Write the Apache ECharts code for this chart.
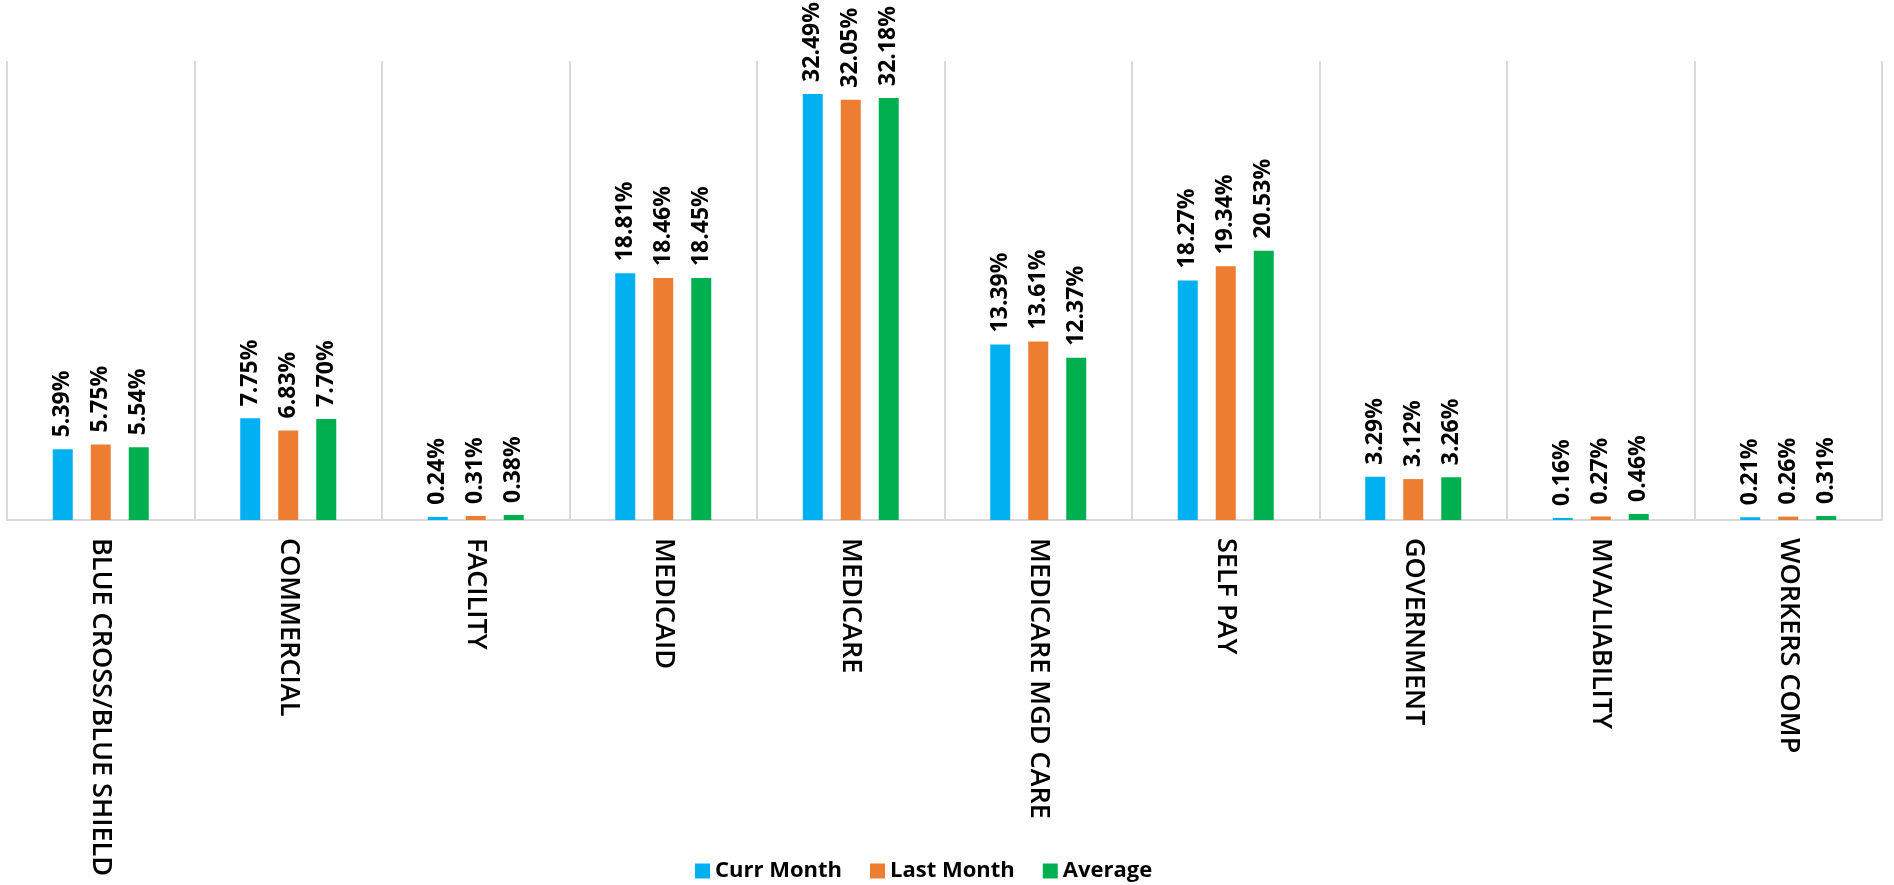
<!DOCTYPE html>
<html>
<head>
<meta charset="utf-8">
<script src="https://cdn.jsdelivr.net/npm/echarts@6/dist/echarts.min.js"></script>
<style>
html,body{margin:0;padding:0;background:#fff;}
#chart{width:1894px;height:885px;}
</style>
</head>
<body>
<div id="chart"></div>
<script>
const categories = ['BLUE CROSS/BLUE SHIELD','COMMERCIAL','FACILITY','MEDICAID','MEDICARE','MEDICARE MGD CARE','SELF PAY','GOVERNMENT','MVA/LIABILITY','WORKERS COMP'];
const currMonth = [5.39, 7.75, 0.24, 18.81, 32.49, 13.39, 18.27, 3.29, 0.16, 0.21];
const lastMonth = [5.75, 6.83, 0.31, 18.46, 32.05, 13.61, 19.34, 3.12, 0.27, 0.26];
const average   = [5.54, 7.70, 0.38, 18.45, 32.18, 12.37, 20.53, 3.26, 0.46, 0.31];
const seriesNames = ['Curr Month','Last Month','Average'];
const colors = ['#00B0F0','#ED7D31','#00B050'];

const chart = echarts.init(document.getElementById('chart'));
const labelCfg = {
  show: true,
  position: 'top',
  rotate: 90,
  align: 'left',
  verticalAlign: 'middle',
  distance: 12,
  color: '#000',
  fontFamily: 'Open Sans',
  fontWeight: 'bold',
  fontSize: 23,
  formatter: p => p.value.toFixed(2) + '%'
};
function mk(name, data, color) {
  return {
    name, type: 'bar', data,
    barWidth: 20, barGap: '90%',
    itemStyle: { color },
    label: labelCfg
  };
}
chart.setOption({
  animation: false,
  color: colors,
  grid: { left: 7, right: 12, top: 61, bottom: 365, containLabel: false },
  legend: {
    left: 690, top: 855,
    itemWidth: 15, itemHeight: 15, itemGap: 28,
    icon: 'rect',
    textStyle: { fontFamily: 'Open Sans', fontWeight: 'bold', fontSize: 22, color: '#000' },
    data: seriesNames
  },
  xAxis: {
    type: 'category',
    data: categories,
    axisLine: { show: true, lineStyle: { color: '#d9d9d9', width: 2 } },
    axisTick: { show: false },
    splitLine: { show: true, lineStyle: { color: '#d9d9d9', width: 2 } },
    axisLabel: {
      rotate: -90,
      margin: 18,
      interval: 0,
      color: '#000',
      fontFamily: 'Open Sans',
      fontWeight: 600,
      fontSize: 27
    }
  },
  yAxis: {
    type: 'value', min: 0, max: 35,
    show: false,
    splitLine: { show: false }
  },
  series: [
    mk(seriesNames[0], currMonth, colors[0]),
    mk(seriesNames[1], lastMonth, colors[1]),
    mk(seriesNames[2], average, colors[2])
  ]
});
</script>
</body>
</html>
